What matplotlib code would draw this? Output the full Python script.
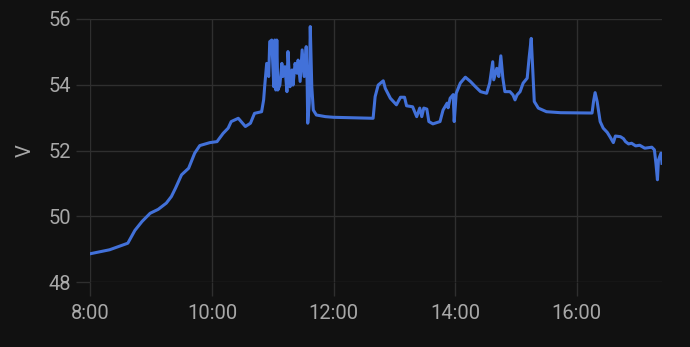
import matplotlib
matplotlib.use("Agg")
import matplotlib.pyplot as plt
import matplotlib.dates as mdates
import pandas as pd

times = [
    "08:00:00", "08:19:00", "08:37:00", "08:44:00", "08:51:00", "08:59:00", "09:07:00", "09:15:00",
    "09:20:00", "09:24:00", "09:30:00", "09:37:00", "09:43:00", "09:48:00", "09:58:00", "10:05:00",
    "10:11:00", "10:16:00", "10:19:00", "10:26:00", "10:28:00", "10:33:00", "10:38:00", "10:42:00",
    "10:49:00", "10:51:00", "10:52:00", "10:54:00", "10:56:00", "10:57:00", "10:59:00", "11:01:00",
    "11:02:00", "11:03:00", "11:04:00", "11:05:00", "11:07:00", "11:09:00", "11:10:00", "11:12:00",
    "11:14:00", "11:15:00", "11:17:00", "11:19:00", "11:20:00", "11:22:00", "11:24:00", "11:25:00",
    "11:27:00", "11:29:00", "11:31:00", "11:33:00", "11:34:00", "11:34:30", "11:36:00", "11:37:00",
    "11:38:30", "11:40:00", "11:43:00", "11:52:00", "12:00:00", "12:39:00", "12:41:00", "12:44:00",
    "12:49:00", "12:51:00", "12:56:00", "12:59:00", "13:02:00", "13:06:00", "13:10:00", "13:12:00",
    "13:18:00", "13:22:00", "13:25:00", "13:27:00", "13:29:00", "13:32:00", "13:34:00", "13:38:00",
    "13:45:00", "13:48:00", "13:52:00", "13:53:00", "13:55:00", "13:58:00", "13:59:00", "14:01:00",
    "14:05:00", "14:10:00", "14:15:00", "14:20:00", "14:25:00", "14:31:00", "14:34:00", "14:37:00",
    "14:38:00", "14:41:00", "14:43:00", "14:45:00", "14:47:00", "14:49:00", "14:54:00", "14:57:00",
    "14:59:00", "15:01:00", "15:04:00", "15:07:00", "15:11:00", "15:13:00", "15:15:00", "15:17:00",
    "15:18:00", "15:22:00", "15:30:00", "15:44:00", "16:15:00", "16:16:30", "16:18:00", "16:20:00",
    "16:23:00", "16:26:00", "16:30:00", "16:33:00", "16:36:00", "16:38:00", "16:43:00", "16:46:00",
    "16:48:00", "16:51:00", "16:54:00", "16:58:00", "17:02:00", "17:07:00", "17:14:00", "17:16:30",
    "17:18:00", "17:19:30", "17:20:30", "17:23:00", "17:24:00",
]
volts = [
    48.86, 48.98, 49.18, 49.57, 49.84, 50.09, 50.21, 50.40,
    50.60, 50.85, 51.26, 51.46, 51.92, 52.15, 52.24, 52.27,
    52.52, 52.68, 52.88, 52.98, 52.91, 52.73, 52.83, 53.13,
    53.18, 53.54, 53.94, 54.65, 54.25, 55.31, 55.36, 53.94,
    55.36, 53.84, 55.36, 53.84, 53.99, 54.65, 54.25, 54.55,
    53.79, 55.01, 53.94, 54.45, 53.99, 54.65, 54.35, 54.75,
    54.10, 55.06, 54.25, 55.16, 53.94, 52.83, 53.44, 55.77,
    53.94, 53.23, 53.08, 53.03, 53.01, 52.98, 53.64, 53.99,
    54.12, 53.89, 53.59, 53.49, 53.39, 53.62, 53.62, 53.36,
    53.33, 53.03, 53.29, 53.03, 53.29, 53.26, 52.88, 52.81,
    52.88, 53.23, 53.44, 53.30, 53.59, 53.70, 52.88, 53.74,
    54.05, 54.23, 54.10, 53.94, 53.79, 53.74, 54.05, 54.70,
    54.15, 54.50, 54.25, 54.88, 54.20, 53.79, 53.79, 53.69,
    53.54, 53.69, 53.79, 54.05, 54.20, 54.85, 55.41, 54.15,
    53.49, 53.29, 53.18, 53.15, 53.14, 53.50, 53.76, 53.49,
    52.88, 52.68, 52.55, 52.40, 52.24, 52.44, 52.42, 52.36,
    52.27, 52.20, 52.22, 52.14, 52.16, 52.07, 52.10, 52.02,
    51.61, 51.11, 51.71, 51.92, 51.61,
]
x_start = "08:00:00"
x_end = "17:24:00"
y_ticks = [48, 50, 52, 54, 56]
y_label = "V"

day = "2024-01-01 "
t = pd.to_datetime([day + s for s in times])

BG = "#111111"
GRID = "#2f2f2f"
TXT = "#a8a8a8"
LINE = "#4271d9"

plt.rcParams["font.family"] = ["Roboto", "DejaVu Sans"]

fig = plt.figure(figsize=(6.9, 3.47), dpi=100, facecolor=BG)
ax = fig.add_axes([90.3 / 690, 1 - 282 / 347, (662 - 90.3) / 690, (282 - 19) / 347])
ax.set_facecolor(BG)

ax.plot(t, volts, color=LINE, lw=2.2, solid_joinstyle="round")

ax.set_xlim(pd.Timestamp(day + x_start), pd.Timestamp(day + x_end))
ax.set_ylim(y_ticks[0], y_ticks[-1])
ax.set_yticks(y_ticks)
ax.xaxis.set_major_locator(mdates.HourLocator(byhour=range(0, 24, 2)))
ax.xaxis.set_major_formatter(mdates.DateFormatter("%-H:%M"))

for s in ax.spines.values():
    s.set_visible(False)
ax.grid(True, color=GRID, lw=1.0)
ax.set_axisbelow(True)
ax.tick_params(axis="both", colors=GRID, labelcolor=TXT, labelsize=14.5, length=10, width=1.0)
ax.tick_params(axis="y", pad=4)
ax.tick_params(axis="x", pad=6)
ax.set_ylabel(y_label, color=TXT, fontsize=14.5, labelpad=10)

fig.savefig("out.png", dpi=100, facecolor=BG)
